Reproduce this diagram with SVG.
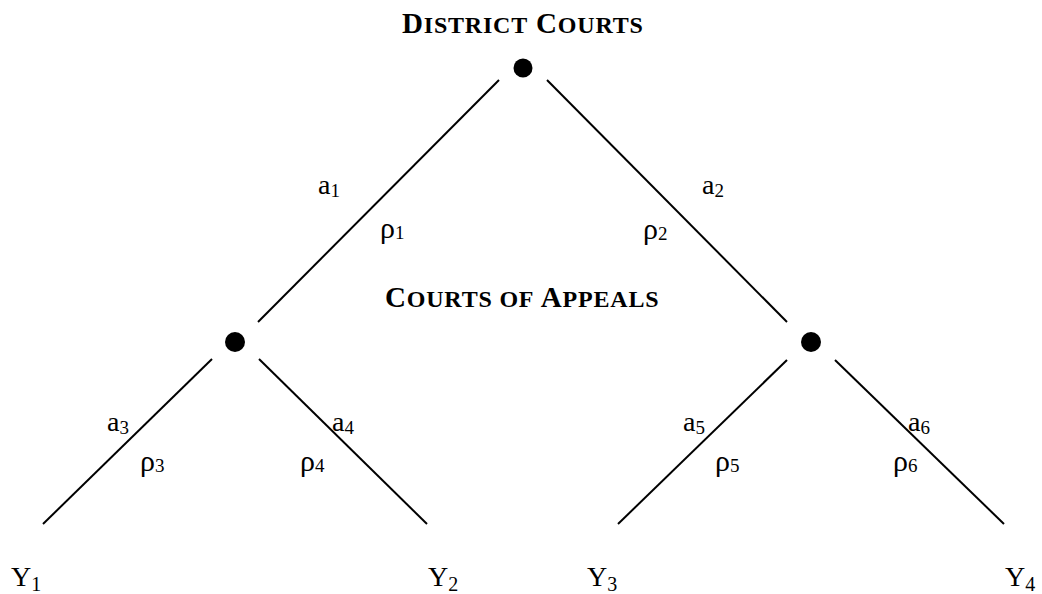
<svg xmlns="http://www.w3.org/2000/svg" width="1042" height="594" viewBox="0 0 1042 594">
<style>
.t{font-family:"Liberation Serif","Times New Roman",serif;fill:#000}
.h{font-weight:bold;font-size:29px;letter-spacing:0.8px}
.sc{font-size:24px}
.a{font-size:28px}
.r{font-size:30px}
.sub{font-size:19px}
.y{font-size:28px}
.ysub{font-size:20px}
.e{stroke:#000;stroke-width:2;fill:none}
</style>
<rect width="1042" height="594" fill="#fff"/>
<g id="connectors">
<line class="e" x1="499" y1="80" x2="258" y2="322"/>
<line class="e" x1="547" y1="80" x2="787" y2="322"/>
<line class="e" x1="212" y1="359" x2="43" y2="524"/>
<line class="e" x1="259" y1="359" x2="427" y2="524"/>
<line class="e" x1="787" y1="360" x2="618" y2="524"/>
<line class="e" x1="835" y1="360" x2="1004" y2="524"/>
</g>
<g id="labels">
<text class="t a" x="318" y="194">a<tspan class="sub" dy="3">1</tspan></text>
<text class="t r" x="380" y="238">ρ<tspan class="sub" dy="1">1</tspan></text>
<text class="t a" x="702" y="194">a<tspan class="sub" dy="3">2</tspan></text>
<text class="t r" x="643" y="239">ρ<tspan class="sub" dy="1">2</tspan></text>
<text class="t a" x="107" y="431">a<tspan class="sub" dy="3">3</tspan></text>
<text class="t r" x="140" y="471">ρ<tspan class="sub" dy="1">3</tspan></text>
<text class="t a" x="332" y="431">a<tspan class="sub" dy="3">4</tspan></text>
<text class="t r" x="300" y="471">ρ<tspan class="sub" dy="1">4</tspan></text>
<text class="t a" x="683" y="431">a<tspan class="sub" dy="3">5</tspan></text>
<text class="t r" x="715" y="471">ρ<tspan class="sub" dy="1">5</tspan></text>
<text class="t a" x="908" y="431">a<tspan class="sub" dy="3">6</tspan></text>
<text class="t r" x="893" y="471">ρ<tspan class="sub" dy="1">6</tspan></text>
</g>
<g id="district-courts">
<circle cx="523" cy="68" r="9.5" fill="#000"/>
<text class="t h" x="402" y="33">D<tspan class="sc">ISTRICT</tspan> C<tspan class="sc">OURTS</tspan></text>
</g>
<g id="appeals-left">
<circle cx="235" cy="342" r="10" fill="#000"/>
</g>
<g id="appeals-right">
<circle cx="811" cy="342" r="10" fill="#000"/>
</g>
<g id="appeals-label">
<text class="t h" x="385" y="307">C<tspan class="sc">OURTS OF</tspan> A<tspan class="sc">PPEALS</tspan></text>
</g>
<g id="y1"><text class="t y" x="11" y="586">Y<tspan class="ysub" dy="5">1</tspan></text></g>
<g id="y2"><text class="t y" x="428" y="586">Y<tspan class="ysub" dy="5">2</tspan></text></g>
<g id="y3"><text class="t y" x="587" y="586">Y<tspan class="ysub" dy="5">3</tspan></text></g>
<g id="y4"><text class="t y" x="1005" y="586">Y<tspan class="ysub" dy="5">4</tspan></text></g>
</svg>
